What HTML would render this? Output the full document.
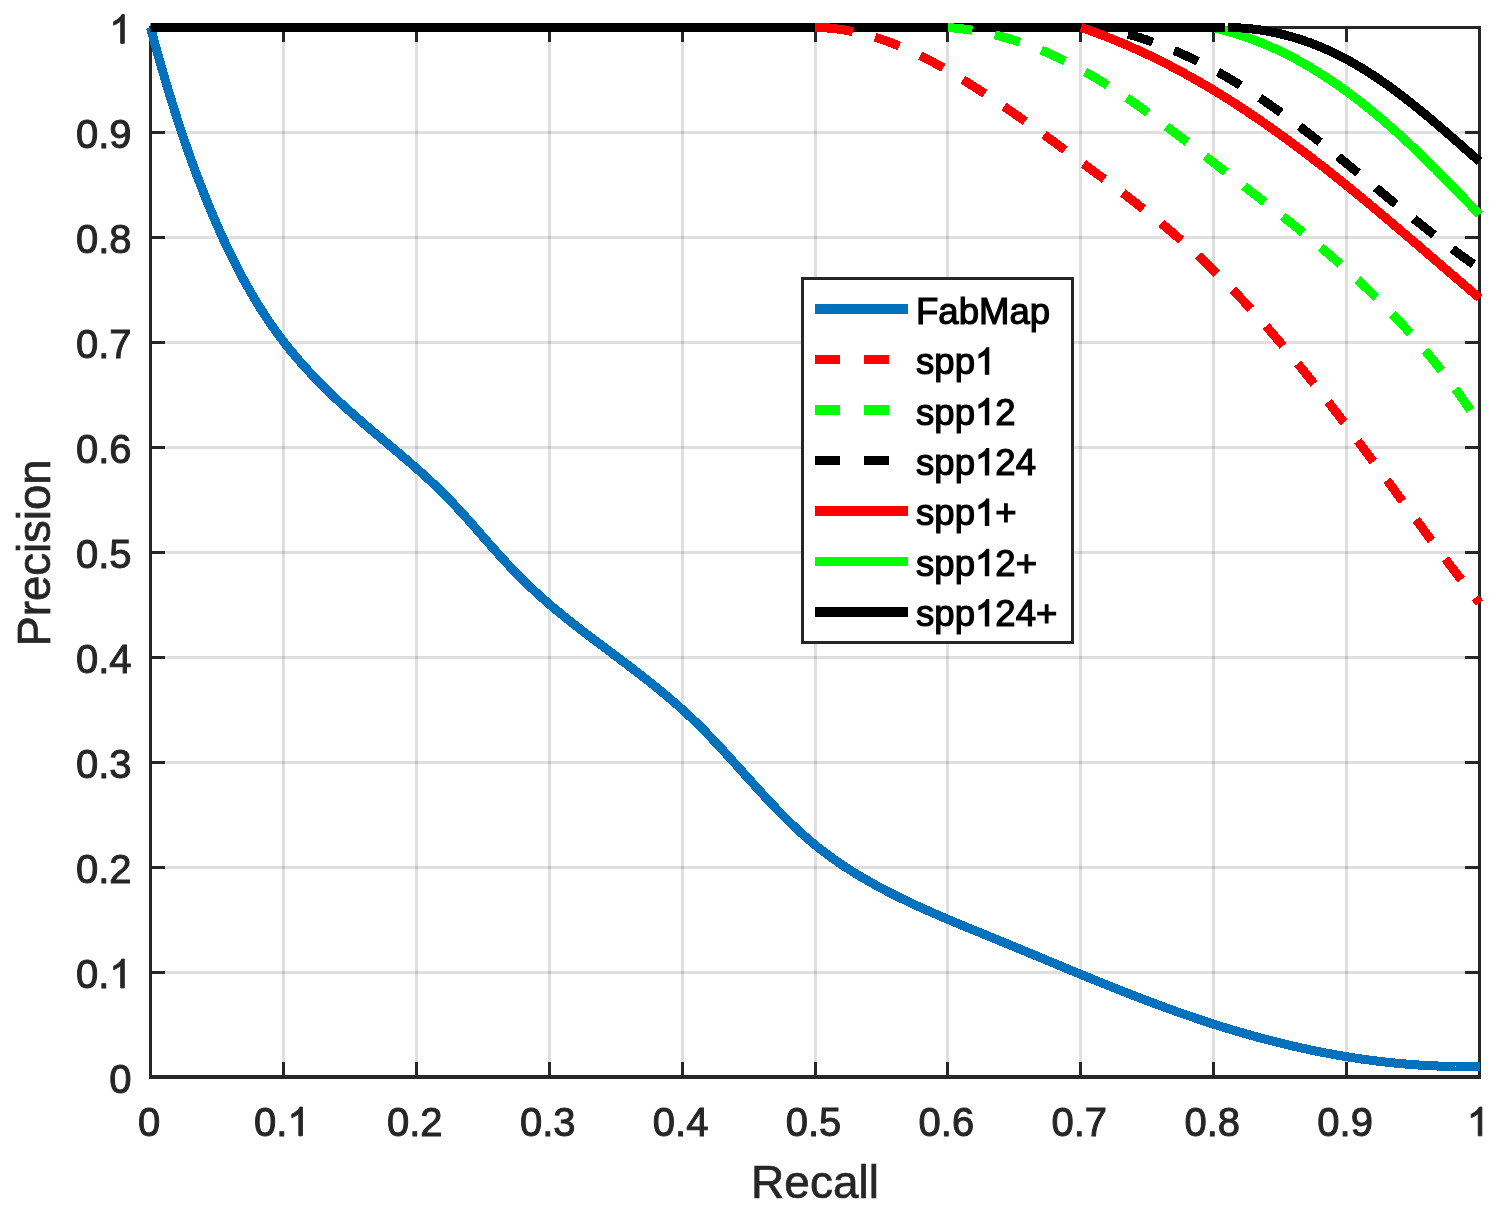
<!DOCTYPE html>
<html><head><meta charset="utf-8"><style>
html,body{margin:0;padding:0;background:#fff;}
body{width:1500px;height:1220px;overflow:hidden;}
svg{display:block;will-change:transform;}
text{font-family:"Liberation Sans",sans-serif;}
</style></head><body>
<svg width="1500" height="1220" viewBox="0 0 1500 1220">
<rect width="1500" height="1220" fill="#fff"/>
<g stroke="#262626" stroke-opacity="0.15" stroke-width="3" fill="none"><path d="M283.50,27.50 V1077.00"/><path d="M416.50,27.50 V1077.00"/><path d="M549.50,27.50 V1077.00"/><path d="M682.50,27.50 V1077.00"/><path d="M815.50,27.50 V1077.00"/><path d="M947.50,27.50 V1077.00"/><path d="M1080.50,27.50 V1077.00"/><path d="M1213.50,27.50 V1077.00"/><path d="M1346.50,27.50 V1077.00"/><path d="M150.50,972.50 H1479.50"/><path d="M150.50,867.50 H1479.50"/><path d="M150.50,762.50 H1479.50"/><path d="M150.50,657.50 H1479.50"/><path d="M150.50,552.50 H1479.50"/><path d="M150.50,447.50 H1479.50"/><path d="M150.50,342.50 H1479.50"/><path d="M150.50,237.50 H1479.50"/><path d="M150.50,132.50 H1479.50"/></g>
<path d="M283.50,1077.00 V1062.00 M283.50,27.50 V42.00 M150.50,972.50 H165.00 M1479.50,972.50 H1465.00 M416.50,1077.00 V1062.00 M416.50,27.50 V42.00 M150.50,867.50 H165.00 M1479.50,867.50 H1465.00 M549.50,1077.00 V1062.00 M549.50,27.50 V42.00 M150.50,762.50 H165.00 M1479.50,762.50 H1465.00 M682.50,1077.00 V1062.00 M682.50,27.50 V42.00 M150.50,657.50 H165.00 M1479.50,657.50 H1465.00 M815.50,1077.00 V1062.00 M815.50,27.50 V42.00 M150.50,552.50 H165.00 M1479.50,552.50 H1465.00 M947.50,1077.00 V1062.00 M947.50,27.50 V42.00 M150.50,447.50 H165.00 M1479.50,447.50 H1465.00 M1080.50,1077.00 V1062.00 M1080.50,27.50 V42.00 M150.50,342.50 H165.00 M1479.50,342.50 H1465.00 M1213.50,1077.00 V1062.00 M1213.50,27.50 V42.00 M150.50,237.50 H165.00 M1479.50,237.50 H1465.00 M1346.50,1077.00 V1062.00 M1346.50,27.50 V42.00 M150.50,132.50 H165.00 M1479.50,132.50 H1465.00" stroke="#262626" stroke-width="3" fill="none"/>
<path d="M149,27.5 H1481 M150.5,26 V1079 M1479.5,26 V1079" stroke="#262626" stroke-width="3" fill="none"/>
<path d="M149,1077 H1481" stroke="#262626" stroke-width="4" fill="none"/>
<path d="M150.5,27.5 151.0,29.4 151.5,31.4 152.1,33.3 152.6,35.2 153.1,37.2 153.6,39.1 154.2,41.0 154.7,43.0 155.2,44.9 155.8,46.8 156.3,48.8 156.8,50.7 157.4,52.6 157.9,54.6 158.5,56.5 159.0,58.4 159.5,60.4 160.1,62.3 160.6,64.2 161.2,66.1 161.7,68.1 162.3,70.0 162.9,71.9 163.4,73.8 164.0,75.8 164.5,77.7 165.1,79.6 165.7,81.5 166.2,83.5 166.8,85.4 167.4,87.3 168.0,89.2 168.5,91.1 169.1,93.0 169.7,95.0 170.3,96.9 170.9,98.8 171.5,100.7 172.1,102.6 172.7,104.5 173.3,106.5 173.9,108.4 174.5,110.3 175.1,112.2 175.7,114.1 176.3,116.0 176.9,117.9 177.5,119.8 178.1,121.7 178.8,123.6 179.4,125.5 180.0,127.4 180.6,129.3 181.3,131.3 181.9,133.2 182.5,135.1 183.2,137.0 183.8,138.8 184.5,140.7 185.1,142.6 185.8,144.5 186.4,146.4 187.1,148.3 187.8,150.2 188.4,152.1 189.1,154.0 189.8,155.9 190.4,157.8 191.1,159.7 191.8,161.5 192.5,163.4 193.2,165.3 193.9,167.2 194.5,169.1 195.2,171.0 195.9,172.8 196.6,174.7 197.4,176.6 198.1,178.5 198.8,180.3 199.5,182.2 200.2,184.1 200.9,185.9 201.7,187.8 202.4,189.7 203.1,191.5 203.9,193.4 204.6,195.3 205.4,197.1 206.1,199.0 206.9,200.8 207.6,202.7 208.4,204.6 209.1,206.4 209.9,208.3 210.7,210.1 211.4,212.0 212.2,213.8 213.0,215.7 213.8,217.5 214.6,219.3 215.4,221.2 216.2,223.0 217.0,224.9 217.8,226.7 218.6,228.5 219.4,230.4 220.2,232.2 221.0,234.0 221.9,235.8 222.7,237.7 223.5,239.5 224.4,241.3 225.2,243.1 226.1,244.9 226.9,246.7 227.8,248.6 228.7,250.4 229.5,252.2 230.4,254.0 231.3,255.8 232.2,257.6 233.1,259.4 234.0,261.2 234.9,263.0 235.8,264.7 236.7,266.5 237.6,268.3 238.5,270.1 239.4,271.9 240.4,273.6 241.3,275.4 242.3,277.2 243.2,278.9 244.2,280.7 245.2,282.5 246.1,284.2 247.1,286.0 248.1,287.7 249.1,289.4 250.1,291.2 251.1,292.9 252.1,294.6 253.1,296.4 254.1,298.1 255.2,299.8 256.2,301.5 257.2,303.2 258.3,304.9 259.4,306.6 260.4,308.3 261.5,310.0 262.6,311.7 263.7,313.4 264.8,315.1 265.9,316.8 267.0,318.4 268.1,320.1 269.2,321.8 270.3,323.4 271.5,325.1 272.6,326.7 273.8,328.3 274.9,330.0 276.1,331.6 277.3,333.2 278.5,334.8 279.7,336.5 280.9,338.1 282.1,339.7 283.3,341.2 284.5,342.8 285.8,344.4 287.0,346.0 288.3,347.5 289.5,349.1 290.8,350.7 292.1,352.2 293.3,353.7 294.6,355.3 295.9,356.8 297.2,358.3 298.5,359.9 299.8,361.4 301.2,362.9 302.5,364.4 303.8,365.9 305.2,367.4 306.5,368.8 307.9,370.3 309.2,371.8 310.6,373.3 312.0,374.7 313.4,376.2 314.7,377.6 316.1,379.1 317.5,380.5 318.9,381.9 320.3,383.4 321.7,384.8 323.2,386.2 324.6,387.6 326.0,389.0 327.4,390.4 328.9,391.8 330.3,393.2 331.8,394.6 333.2,396.0 334.7,397.4 336.1,398.8 337.6,400.1 339.0,401.5 340.5,402.9 342.0,404.2 343.5,405.6 344.9,406.9 346.4,408.3 347.9,409.6 349.4,411.0 350.9,412.3 352.4,413.6 353.9,415.0 355.4,416.3 356.9,417.6 358.4,418.9 359.9,420.2 361.4,421.6 363.0,422.9 364.5,424.2 366.0,425.5 367.5,426.8 369.0,428.1 370.6,429.4 372.1,430.7 373.6,432.0 375.2,433.3 376.7,434.6 378.2,435.8 379.8,437.1 381.3,438.4 382.8,439.7 384.4,441.0 385.9,442.3 387.4,443.6 389.0,444.9 390.5,446.2 392.0,447.5 393.6,448.7 395.1,450.0 396.6,451.3 398.2,452.6 399.7,453.9 401.2,455.2 402.7,456.5 404.3,457.8 405.8,459.1 407.3,460.4 408.8,461.7 410.4,463.0 411.9,464.4 413.4,465.7 414.9,467.0 416.4,468.3 417.9,469.6 419.4,471.0 420.9,472.3 422.4,473.6 423.9,475.0 425.4,476.3 426.8,477.7 428.3,479.0 429.8,480.4 431.3,481.8 432.7,483.1 434.2,484.5 435.6,485.9 437.1,487.3 438.5,488.7 439.9,490.1 441.4,491.5 442.8,492.9 444.2,494.3 445.6,495.7 447.0,497.2 448.4,498.6 449.8,500.0 451.2,501.5 452.6,502.9 454.0,504.4 455.4,505.8 456.7,507.3 458.1,508.8 459.4,510.2 460.8,511.7 462.2,513.2 463.5,514.7 464.9,516.2 466.2,517.7 467.5,519.1 468.9,520.6 470.2,522.1 471.5,523.6 472.9,525.1 474.2,526.6 475.5,528.1 476.9,529.6 478.2,531.1 479.5,532.6 480.8,534.1 482.1,535.7 483.5,537.2 484.8,538.7 486.1,540.2 487.4,541.7 488.8,543.2 490.1,544.7 491.4,546.2 492.8,547.7 494.1,549.2 495.4,550.7 496.8,552.2 498.1,553.7 499.4,555.2 500.8,556.6 502.1,558.1 503.5,559.6 504.8,561.1 506.2,562.6 507.5,564.0 508.9,565.5 510.3,567.0 511.7,568.4 513.0,569.9 514.4,571.3 515.8,572.8 517.2,574.2 518.6,575.6 520.0,577.1 521.4,578.5 522.8,579.9 524.3,581.3 525.7,582.7 527.1,584.1 528.6,585.5 530.0,586.9 531.5,588.2 533.0,589.6 534.4,591.0 535.9,592.3 537.4,593.7 538.9,595.0 540.4,596.4 541.9,597.7 543.4,599.0 544.9,600.3 546.4,601.7 547.9,603.0 549.4,604.3 551.0,605.6 552.5,606.9 554.0,608.2 555.6,609.4 557.1,610.7 558.7,612.0 560.2,613.3 561.8,614.5 563.3,615.8 564.9,617.1 566.4,618.3 568.0,619.6 569.6,620.8 571.1,622.1 572.7,623.3 574.3,624.5 575.9,625.8 577.4,627.0 579.0,628.2 580.6,629.5 582.2,630.7 583.8,631.9 585.4,633.1 587.0,634.4 588.6,635.6 590.2,636.8 591.8,638.0 593.4,639.2 595.0,640.4 596.6,641.6 598.2,642.8 599.8,644.0 601.4,645.2 603.0,646.4 604.6,647.6 606.2,648.8 607.8,650.1 609.4,651.3 611.0,652.5 612.6,653.7 614.2,654.9 615.8,656.1 617.4,657.3 619.0,658.5 620.6,659.7 622.2,660.9 623.8,662.1 625.4,663.3 627.0,664.5 628.6,665.7 630.2,666.9 631.8,668.1 633.4,669.4 635.0,670.6 636.6,671.8 638.1,673.0 639.7,674.2 641.3,675.5 642.9,676.7 644.5,677.9 646.1,679.2 647.6,680.4 649.2,681.7 650.8,682.9 652.3,684.1 653.9,685.4 655.5,686.7 657.0,687.9 658.6,689.2 660.1,690.4 661.7,691.7 663.2,693.0 664.8,694.3 666.3,695.6 667.8,696.9 669.4,698.1 670.9,699.4 672.4,700.8 673.9,702.1 675.4,703.4 677.0,704.7 678.5,706.0 680.0,707.4 681.4,708.7 682.9,710.0 684.4,711.4 685.9,712.7 687.4,714.1 688.8,715.5 690.3,716.9 691.7,718.2 693.2,719.6 694.6,721.0 696.1,722.4 697.5,723.8 698.9,725.2 700.3,726.6 701.8,728.1 703.2,729.5 704.6,730.9 706.0,732.3 707.4,733.8 708.8,735.2 710.2,736.7 711.5,738.1 712.9,739.6 714.3,741.0 715.7,742.5 717.0,743.9 718.4,745.4 719.8,746.9 721.1,748.3 722.5,749.8 723.9,751.3 725.2,752.8 726.6,754.3 727.9,755.7 729.3,757.2 730.6,758.7 732.0,760.2 733.3,761.7 734.6,763.2 736.0,764.6 737.3,766.1 738.7,767.6 740.0,769.1 741.3,770.6 742.7,772.1 744.0,773.6 745.4,775.1 746.7,776.6 748.0,778.1 749.4,779.5 750.7,781.0 752.1,782.5 753.4,784.0 754.8,785.5 756.1,787.0 757.5,788.5 758.8,789.9 760.2,791.4 761.5,792.9 762.9,794.4 764.2,795.8 765.6,797.3 767.0,798.8 768.3,800.3 769.7,801.7 771.1,803.2 772.5,804.6 773.8,806.1 775.2,807.5 776.6,809.0 778.0,810.4 779.4,811.8 780.8,813.3 782.2,814.7 783.6,816.1 785.0,817.6 786.5,819.0 787.9,820.4 789.3,821.8 790.8,823.2 792.2,824.6 793.6,825.9 795.1,827.3 796.6,828.7 798.0,830.1 799.5,831.4 801.0,832.8 802.5,834.1 804.0,835.5 805.5,836.8 807.0,838.1 808.5,839.4 810.0,840.7 811.5,842.0 813.1,843.3 814.6,844.6 816.2,845.8 817.7,847.1 819.3,848.3 820.9,849.6 822.5,850.8 824.1,852.0 825.7,853.2 827.3,854.4 828.9,855.6 830.5,856.8 832.1,858.0 833.8,859.2 835.4,860.3 837.0,861.5 838.7,862.6 840.3,863.7 842.0,864.8 843.7,865.9 845.3,867.0 847.0,868.1 848.7,869.2 850.4,870.3 852.1,871.4 853.8,872.4 855.5,873.5 857.2,874.5 858.9,875.6 860.7,876.6 862.4,877.6 864.1,878.6 865.8,879.6 867.6,880.6 869.3,881.6 871.1,882.6 872.8,883.6 874.6,884.6 876.3,885.5 878.1,886.5 879.9,887.4 881.6,888.4 883.4,889.3 885.2,890.2 886.9,891.2 888.7,892.1 890.5,893.0 892.3,893.9 894.1,894.8 895.9,895.7 897.7,896.6 899.5,897.5 901.3,898.4 903.1,899.2 904.9,900.1 906.7,901.0 908.5,901.8 910.3,902.7 912.1,903.5 914.0,904.4 915.8,905.2 917.6,906.1 919.4,906.9 921.2,907.7 923.1,908.5 924.9,909.4 926.7,910.2 928.6,911.0 930.4,911.8 932.2,912.6 934.1,913.4 935.9,914.2 937.7,915.0 939.6,915.8 941.4,916.6 943.3,917.4 945.1,918.2 946.9,919.0 948.8,919.7 950.6,920.5 952.5,921.3 954.3,922.1 956.2,922.9 958.0,923.6 959.9,924.4 961.7,925.2 963.6,925.9 965.4,926.7 967.3,927.5 969.1,928.2 971.0,929.0 972.9,929.8 974.7,930.5 976.6,931.3 978.4,932.0 980.3,932.8 982.1,933.6 984.0,934.3 985.8,935.1 987.7,935.8 989.5,936.6 991.4,937.4 993.3,938.1 995.1,938.9 997.0,939.6 998.8,940.4 1000.7,941.2 1002.5,941.9 1004.4,942.7 1006.2,943.4 1008.1,944.2 1009.9,945.0 1011.8,945.7 1013.6,946.5 1015.5,947.3 1017.3,948.0 1019.2,948.8 1021.0,949.6 1022.9,950.3 1024.7,951.1 1026.6,951.9 1028.4,952.7 1030.3,953.4 1032.2,954.2 1034.0,955.0 1035.9,955.7 1037.7,956.5 1039.6,957.3 1041.4,958.0 1043.3,958.8 1045.1,959.6 1047.0,960.4 1048.8,961.1 1050.7,961.9 1052.5,962.7 1054.4,963.4 1056.2,964.2 1058.1,965.0 1059.9,965.7 1061.8,966.5 1063.6,967.3 1065.5,968.1 1067.3,968.8 1069.2,969.6 1071.0,970.4 1072.9,971.1 1074.7,971.9 1076.6,972.6 1078.4,973.4 1080.3,974.2 1082.1,974.9 1084.0,975.7 1085.8,976.5 1087.7,977.2 1089.6,978.0 1091.4,978.7 1093.3,979.5 1095.1,980.2 1097.0,981.0 1098.8,981.7 1100.7,982.5 1102.6,983.3 1104.4,984.0 1106.3,984.8 1108.1,985.5 1110.0,986.2 1111.9,987.0 1113.7,987.7 1115.6,988.5 1117.4,989.2 1119.3,989.9 1121.2,990.7 1123.0,991.4 1124.9,992.2 1126.8,992.9 1128.6,993.6 1130.5,994.3 1132.4,995.1 1134.2,995.8 1136.1,996.5 1138.0,997.2 1139.8,998.0 1141.7,998.7 1143.6,999.4 1145.5,1000.1 1147.3,1000.8 1149.2,1001.5 1151.1,1002.2 1153.0,1002.9 1154.8,1003.6 1156.7,1004.3 1158.6,1005.0 1160.5,1005.7 1162.4,1006.4 1164.2,1007.1 1166.1,1007.8 1168.0,1008.5 1169.9,1009.2 1171.8,1009.8 1173.7,1010.5 1175.6,1011.2 1177.4,1011.9 1179.3,1012.5 1181.2,1013.2 1183.1,1013.9 1185.0,1014.5 1186.9,1015.2 1188.8,1015.8 1190.7,1016.5 1192.6,1017.1 1194.5,1017.8 1196.4,1018.4 1198.3,1019.1 1200.2,1019.7 1202.1,1020.3 1204.0,1021.0 1205.9,1021.6 1207.8,1022.2 1209.7,1022.8 1211.6,1023.5 1213.5,1024.1 1215.4,1024.7 1217.3,1025.3 1219.2,1025.9 1221.2,1026.5 1223.1,1027.1 1225.0,1027.7 1226.9,1028.3 1228.8,1028.8 1230.7,1029.4 1232.7,1030.0 1234.6,1030.6 1236.5,1031.1 1238.4,1031.7 1240.3,1032.3 1242.3,1032.8 1244.2,1033.4 1246.1,1033.9 1248.1,1034.5 1250.0,1035.0 1251.9,1035.6 1253.8,1036.1 1255.8,1036.6 1257.7,1037.2 1259.6,1037.7 1261.6,1038.2 1263.5,1038.7 1265.5,1039.2 1267.4,1039.7 1269.3,1040.2 1271.3,1040.7 1273.2,1041.2 1275.2,1041.7 1277.1,1042.2 1279.1,1042.7 1281.0,1043.2 1282.9,1043.7 1284.9,1044.1 1286.8,1044.6 1288.8,1045.1 1290.7,1045.5 1292.7,1046.0 1294.7,1046.4 1296.6,1046.9 1298.6,1047.3 1300.5,1047.7 1302.5,1048.2 1304.4,1048.6 1306.4,1049.0 1308.4,1049.4 1310.3,1049.9 1312.3,1050.3 1314.2,1050.7 1316.2,1051.1 1318.2,1051.5 1320.1,1051.9 1322.1,1052.2 1324.1,1052.6 1326.0,1053.0 1328.0,1053.4 1330.0,1053.7 1331.9,1054.1 1333.9,1054.5 1335.9,1054.8 1337.9,1055.2 1339.8,1055.5 1341.8,1055.9 1343.8,1056.2 1345.8,1056.5 1347.7,1056.8 1349.7,1057.2 1351.7,1057.5 1353.7,1057.8 1355.7,1058.1 1357.6,1058.4 1359.6,1058.7 1361.6,1059.0 1363.6,1059.3 1365.6,1059.5 1367.6,1059.8 1369.6,1060.1 1371.5,1060.4 1373.5,1060.6 1375.5,1060.9 1377.5,1061.1 1379.5,1061.4 1381.5,1061.6 1383.5,1061.8 1385.5,1062.1 1387.5,1062.3 1389.5,1062.5 1391.4,1062.7 1393.4,1062.9 1395.4,1063.1 1397.4,1063.3 1399.4,1063.5 1401.4,1063.7 1403.4,1063.9 1405.4,1064.0 1407.4,1064.2 1409.4,1064.4 1411.4,1064.5 1413.4,1064.7 1415.4,1064.8 1417.4,1064.9 1419.4,1065.1 1421.4,1065.2 1423.4,1065.3 1425.4,1065.4 1427.4,1065.6 1429.4,1065.7 1431.4,1065.8 1433.4,1065.8 1435.4,1065.9 1437.4,1066.0 1439.4,1066.1 1441.4,1066.2 1443.4,1066.2 1445.4,1066.3 1447.4,1066.3 1449.4,1066.4 1451.4,1066.4 1453.4,1066.4 1455.5,1066.5 1457.5,1066.5 1459.5,1066.5 1461.5,1066.5 1463.5,1066.5 1465.5,1066.5 1467.5,1066.5 1469.5,1066.5 1471.5,1066.5 1473.5,1066.4 1475.5,1066.4 1477.5,1066.3 1479.5,1066.3" stroke="#0072bd" stroke-width="9" fill="none" stroke-linejoin="round" stroke-linecap="butt" shape-rendering="crispEdges"/>
<path d="M150.5,27.5 H1225" stroke="#000" stroke-width="9" fill="none"/>
<path d="M815,27.5 H830" stroke="#ff0000" stroke-width="9"/>
<path d="M815.0,27.5 817.0,27.5 819.0,27.6 821.0,27.7 823.0,27.8 825.0,27.9 827.0,28.0 829.0,28.2 831.0,28.4 833.0,28.6 835.0,28.8 837.0,29.0 839.0,29.3 841.0,29.5 843.0,29.8 844.9,30.1 846.9,30.5 848.9,30.8 850.9,31.2 852.8,31.6 854.8,32.0 856.8,32.4 858.7,32.8 860.7,33.3 862.6,33.8 864.6,34.3 866.5,34.8 868.4,35.3 870.4,35.8 872.3,36.4 874.2,37.0 876.1,37.6 878.0,38.2 880.0,38.8 881.9,39.4 883.8,40.1 885.6,40.7 887.5,41.4 889.4,42.1 891.3,42.8 893.2,43.5 895.0,44.3 896.9,45.0 898.8,45.8 900.6,46.5 902.5,47.3 904.3,48.1 906.1,48.9 908.0,49.7 909.8,50.6 911.6,51.4 913.4,52.3 915.2,53.1 917.0,54.0 918.8,54.9 920.6,55.8 922.4,56.7 924.2,57.6 926.0,58.5 927.8,59.4 929.6,60.4 931.3,61.3 933.1,62.2 934.9,63.2 936.6,64.2 938.4,65.1 940.1,66.1 941.9,67.1 943.6,68.1 945.3,69.1 947.1,70.1 948.8,71.1 950.5,72.2 952.3,73.2 954.0,74.2 955.7,75.2 957.4,76.3 959.1,77.3 960.8,78.4 962.5,79.4 964.2,80.5 965.9,81.6 967.6,82.6 969.3,83.7 971.0,84.8 972.7,85.9 974.4,86.9 976.1,88.0 977.8,89.1 979.5,90.2 981.1,91.3 982.8,92.4 984.5,93.5 986.2,94.6 987.9,95.7 989.5,96.8 991.2,97.9 992.9,99.0 994.5,100.1 996.2,101.3 997.9,102.4 999.5,103.5 1001.2,104.6 1002.8,105.8 1004.5,106.9 1006.1,108.0 1007.8,109.2 1009.5,110.3 1011.1,111.4 1012.8,112.6 1014.4,113.7 1016.0,114.9 1017.7,116.0 1019.3,117.2 1021.0,118.3 1022.6,119.5 1024.3,120.6 1025.9,121.8 1027.5,122.9 1029.2,124.1 1030.8,125.3 1032.4,126.4 1034.1,127.6 1035.7,128.8 1037.3,129.9 1039.0,131.1 1040.6,132.3 1042.2,133.4 1043.8,134.6 1045.5,135.8 1047.1,137.0 1048.7,138.2 1050.3,139.3 1052.0,140.5 1053.6,141.7 1055.2,142.9 1056.8,144.1 1058.4,145.2 1060.1,146.4 1061.7,147.6 1063.3,148.8 1064.9,150.0 1066.5,151.2 1068.1,152.4 1069.7,153.6 1071.4,154.7 1073.0,155.9 1074.6,157.1 1076.2,158.3 1077.8,159.5 1079.4,160.7 1081.0,161.9 1082.6,163.1 1084.3,164.3 1085.9,165.5 1087.5,166.7 1089.1,167.9 1090.7,169.1 1092.3,170.3 1093.9,171.5 1095.5,172.7 1097.1,173.9 1098.7,175.1 1100.4,176.3 1102.0,177.5 1103.6,178.7 1105.2,179.9 1106.8,181.1 1108.4,182.3 1110.0,183.5 1111.6,184.7 1113.2,185.9 1114.8,187.1 1116.4,188.3 1118.0,189.5 1119.6,190.7 1121.2,191.9 1122.8,193.1 1124.4,194.3 1126.0,195.5 1127.6,196.7 1129.2,198.0 1130.8,199.2 1132.4,200.4 1134.0,201.6 1135.6,202.8 1137.2,204.1 1138.7,205.3 1140.3,206.5 1141.9,207.8 1143.5,209.0 1145.1,210.3 1146.6,211.5 1148.2,212.7 1149.8,214.0 1151.3,215.2 1152.9,216.5 1154.5,217.8 1156.0,219.0 1157.6,220.3 1159.1,221.5 1160.7,222.8 1162.2,224.1 1163.8,225.4 1165.3,226.7 1166.9,227.9 1168.4,229.2 1169.9,230.5 1171.5,231.8 1173.0,233.1 1174.5,234.4 1176.0,235.7 1177.5,237.1 1179.1,238.4 1180.6,239.7 1182.1,241.0 1183.6,242.4 1185.1,243.7 1186.6,245.0 1188.0,246.4 1189.5,247.7 1191.0,249.1 1192.5,250.4 1194.0,251.8 1195.5,253.1 1196.9,254.5 1198.4,255.9 1199.9,257.2 1201.3,258.6 1202.8,260.0 1204.2,261.4 1205.7,262.8 1207.1,264.1 1208.6,265.5 1210.0,266.9 1211.5,268.3 1212.9,269.7 1214.3,271.1 1215.7,272.5 1217.2,274.0 1218.6,275.4 1220.0,276.8 1221.4,278.2 1222.8,279.6 1224.3,281.1 1225.7,282.5 1227.1,283.9 1228.5,285.3 1229.9,286.8 1231.3,288.2 1232.6,289.7 1234.0,291.1 1235.4,292.6 1236.8,294.0 1238.2,295.5 1239.6,296.9 1240.9,298.4 1242.3,299.9 1243.7,301.3 1245.0,302.8 1246.4,304.3 1247.8,305.7 1249.1,307.2 1250.5,308.7 1251.8,310.2 1253.2,311.7 1254.5,313.1 1255.9,314.6 1257.2,316.1 1258.6,317.6 1259.9,319.1 1261.2,320.6 1262.6,322.1 1263.9,323.6 1265.2,325.1 1266.5,326.6 1267.9,328.1 1269.2,329.6 1270.5,331.2 1271.8,332.7 1273.1,334.2 1274.4,335.7 1275.7,337.2 1277.0,338.8 1278.3,340.3 1279.6,341.8 1280.9,343.3 1282.2,344.9 1283.5,346.4 1284.8,347.9 1286.1,349.5 1287.4,351.0 1288.7,352.6 1290.0,354.1 1291.2,355.6 1292.5,357.2 1293.8,358.7 1295.1,360.3 1296.3,361.8 1297.6,363.4 1298.9,364.9 1300.1,366.5 1301.4,368.0 1302.7,369.6 1303.9,371.2 1305.2,372.7 1306.5,374.3 1307.7,375.9 1309.0,377.4 1310.2,379.0 1311.5,380.6 1312.7,382.1 1314.0,383.7 1315.2,385.3 1316.4,386.8 1317.7,388.4 1318.9,390.0 1320.2,391.6 1321.4,393.1 1322.6,394.7 1323.9,396.3 1325.1,397.9 1326.3,399.5 1327.6,401.1 1328.8,402.6 1330.0,404.2 1331.3,405.8 1332.5,407.4 1333.7,409.0 1334.9,410.6 1336.1,412.2 1337.4,413.8 1338.6,415.4 1339.8,417.0 1341.0,418.6 1342.2,420.1 1343.4,421.7 1344.7,423.3 1345.9,424.9 1347.1,426.5 1348.3,428.1 1349.5,429.7 1350.7,431.3 1351.9,432.9 1353.1,434.5 1354.3,436.1 1355.5,437.8 1356.7,439.4 1357.9,441.0 1359.1,442.6 1360.3,444.2 1361.5,445.8 1362.7,447.4 1363.9,449.0 1365.1,450.6 1366.3,452.2 1367.5,453.8 1368.7,455.4 1369.9,457.0 1371.1,458.7 1372.3,460.3 1373.5,461.9 1374.7,463.5 1375.9,465.1 1377.1,466.7 1378.3,468.3 1379.5,469.9 1380.7,471.6 1381.9,473.2 1383.0,474.8 1384.2,476.4 1385.4,478.0 1386.6,479.6 1387.8,481.2 1389.0,482.9 1390.2,484.5 1391.4,486.1 1392.6,487.7 1393.8,489.3 1394.9,490.9 1396.1,492.5 1397.3,494.2 1398.5,495.8 1399.7,497.4 1400.9,499.0 1402.1,500.6 1403.3,502.2 1404.5,503.8 1405.7,505.5 1406.8,507.1 1408.0,508.7 1409.2,510.3 1410.4,511.9 1411.6,513.5 1412.8,515.1 1414.0,516.8 1415.2,518.4 1416.4,520.0 1417.6,521.6 1418.8,523.2 1420.0,524.8 1421.1,526.4 1422.3,528.0 1423.5,529.7 1424.7,531.3 1425.9,532.9 1427.1,534.5 1428.3,536.1 1429.5,537.7 1430.7,539.3 1431.9,540.9 1433.1,542.5 1434.3,544.1 1435.5,545.7 1436.7,547.3 1437.9,548.9 1439.1,550.6 1440.3,552.2 1441.5,553.8 1442.7,555.4 1444.0,557.0 1445.2,558.6 1446.4,560.2 1447.6,561.8 1448.8,563.4 1450.0,565.0 1451.2,566.6 1452.4,568.1 1453.7,569.7 1454.9,571.3 1456.1,572.9 1457.3,574.5 1458.5,576.1 1459.8,577.7 1461.0,579.3 1462.2,580.9 1463.4,582.5 1464.7,584.1 1465.9,585.6 1467.1,587.2 1468.3,588.8 1469.6,590.4 1470.8,592.0 1472.0,593.5 1473.3,595.1 1474.5,596.7 1475.8,598.3 1477.0,599.9 1478.3,601.4 1479.5,603.0" stroke="#ff0000" stroke-width="9" fill="none" stroke-linejoin="round" stroke-linecap="butt" shape-rendering="crispEdges" stroke-dasharray="26 23" stroke-dashoffset="37.00"/>
<path d="M948.0,27.5 950.0,27.6 952.0,27.8 954.0,28.0 956.0,28.2 958.0,28.4 960.0,28.6 962.0,28.8 964.0,29.1 966.0,29.3 968.0,29.6 970.0,29.9 972.0,30.2 974.0,30.6 975.9,30.9 977.9,31.2 979.9,31.6 981.9,32.0 983.8,32.4 985.8,32.8 987.8,33.2 989.7,33.6 991.7,34.1 993.7,34.6 995.6,35.0 997.6,35.5 999.5,36.0 1001.5,36.5 1003.4,37.1 1005.3,37.6 1007.3,38.2 1009.2,38.7 1011.1,39.3 1013.0,39.9 1015.0,40.5 1016.9,41.1 1018.8,41.8 1020.7,42.4 1022.6,43.1 1024.5,43.7 1026.4,44.4 1028.3,45.1 1030.2,45.8 1032.0,46.5 1033.9,47.3 1035.8,48.0 1037.7,48.7 1039.5,49.5 1041.4,50.3 1043.2,51.0 1045.1,51.8 1046.9,52.6 1048.8,53.4 1050.6,54.3 1052.4,55.1 1054.3,55.9 1056.1,56.8 1057.9,57.6 1059.7,58.5 1061.5,59.4 1063.3,60.3 1065.1,61.2 1066.9,62.1 1068.7,63.0 1070.5,63.9 1072.3,64.8 1074.1,65.8 1075.9,66.7 1077.6,67.7 1079.4,68.6 1081.2,69.6 1082.9,70.6 1084.7,71.6 1086.4,72.5 1088.2,73.5 1089.9,74.6 1091.7,75.6 1093.4,76.6 1095.1,77.6 1096.8,78.6 1098.6,79.7 1100.3,80.7 1102.0,81.8 1103.7,82.8 1105.4,83.9 1107.1,85.0 1108.8,86.0 1110.5,87.1 1112.2,88.2 1113.9,89.3 1115.6,90.4 1117.3,91.5 1119.0,92.6 1120.6,93.7 1122.3,94.8 1124.0,95.9 1125.6,97.1 1127.3,98.2 1129.0,99.3 1130.6,100.5 1132.3,101.6 1133.9,102.8 1135.6,103.9 1137.2,105.1 1138.9,106.2 1140.5,107.4 1142.2,108.6 1143.8,109.7 1145.4,110.9 1147.1,112.1 1148.7,113.2 1150.3,114.4 1151.9,115.6 1153.6,116.8 1155.2,118.0 1156.8,119.2 1158.4,120.4 1160.0,121.6 1161.7,122.8 1163.3,124.0 1164.9,125.2 1166.5,126.4 1168.1,127.6 1169.7,128.8 1171.3,130.0 1172.9,131.2 1174.5,132.5 1176.1,133.7 1177.7,134.9 1179.3,136.1 1180.9,137.3 1182.5,138.6 1184.1,139.8 1185.7,141.0 1187.3,142.2 1188.9,143.5 1190.5,144.7 1192.1,145.9 1193.7,147.2 1195.2,148.4 1196.8,149.6 1198.4,150.9 1200.0,152.1 1201.6,153.3 1203.2,154.6 1204.8,155.8 1206.4,157.0 1208.0,158.3 1209.5,159.5 1211.1,160.7 1212.7,162.0 1214.3,163.2 1215.9,164.4 1217.5,165.7 1219.1,166.9 1220.7,168.1 1222.3,169.3 1223.9,170.6 1225.4,171.8 1227.0,173.0 1228.6,174.3 1230.2,175.5 1231.8,176.7 1233.4,177.9 1235.0,179.2 1236.6,180.4 1238.2,181.6 1239.8,182.9 1241.4,184.1 1243.0,185.3 1244.6,186.6 1246.1,187.8 1247.7,189.0 1249.3,190.2 1250.9,191.5 1252.5,192.7 1254.1,193.9 1255.7,195.2 1257.3,196.4 1258.9,197.6 1260.5,198.9 1262.0,200.1 1263.6,201.3 1265.2,202.6 1266.8,203.8 1268.4,205.0 1270.0,206.3 1271.6,207.5 1273.1,208.8 1274.7,210.0 1276.3,211.3 1277.9,212.5 1279.5,213.7 1281.0,215.0 1282.6,216.2 1284.2,217.5 1285.8,218.7 1287.3,220.0 1288.9,221.2 1290.5,222.5 1292.1,223.8 1293.6,225.0 1295.2,226.3 1296.8,227.5 1298.3,228.8 1299.9,230.1 1301.5,231.3 1303.0,232.6 1304.6,233.9 1306.1,235.2 1307.7,236.4 1309.2,237.7 1310.8,239.0 1312.3,240.3 1313.9,241.6 1315.4,242.8 1317.0,244.1 1318.5,245.4 1320.1,246.7 1321.6,248.0 1323.1,249.3 1324.7,250.6 1326.2,251.9 1327.7,253.2 1329.3,254.5 1330.8,255.8 1332.3,257.1 1333.8,258.5 1335.3,259.8 1336.9,261.1 1338.4,262.4 1339.9,263.8 1341.4,265.1 1342.9,266.4 1344.4,267.8 1345.9,269.1 1347.4,270.4 1348.9,271.8 1350.4,273.1 1351.9,274.5 1353.4,275.9 1354.8,277.2 1356.3,278.6 1357.8,279.9 1359.3,281.3 1360.7,282.7 1362.2,284.1 1363.7,285.4 1365.1,286.8 1366.6,288.2 1368.0,289.6 1369.5,291.0 1370.9,292.4 1372.4,293.8 1373.8,295.2 1375.2,296.6 1376.7,298.0 1378.1,299.4 1379.5,300.9 1381.0,302.3 1382.4,303.7 1383.8,305.1 1385.2,306.6 1386.6,308.0 1388.0,309.5 1389.4,310.9 1390.8,312.4 1392.2,313.8 1393.6,315.3 1395.0,316.7 1396.3,318.2 1397.7,319.6 1399.1,321.1 1400.5,322.6 1401.8,324.1 1403.2,325.5 1404.6,327.0 1405.9,328.5 1407.3,330.0 1408.6,331.5 1409.9,333.0 1411.3,334.5 1412.6,336.0 1414.0,337.5 1415.3,339.0 1416.6,340.5 1417.9,342.1 1419.2,343.6 1420.5,345.1 1421.9,346.6 1423.2,348.2 1424.5,349.7 1425.7,351.2 1427.0,352.8 1428.3,354.3 1429.6,355.9 1430.9,357.4 1432.2,359.0 1433.4,360.6 1434.7,362.1 1436.0,363.7 1437.2,365.3 1438.5,366.8 1439.7,368.4 1441.0,370.0 1442.2,371.6 1443.4,373.2 1444.7,374.8 1445.9,376.3 1447.1,377.9 1448.3,379.5 1449.5,381.2 1450.7,382.8 1452.0,384.4 1453.2,386.0 1454.3,387.6 1455.5,389.2 1456.7,390.8 1457.9,392.5 1459.1,394.1 1460.3,395.7 1461.4,397.4 1462.6,399.0 1463.8,400.7 1464.9,402.3 1466.1,404.0 1467.2,405.6 1468.3,407.3 1469.5,408.9 1470.6,410.6 1471.7,412.3 1472.9,413.9 1474.0,415.6 1475.1,417.3 1476.2,418.9 1477.3,420.6 1478.4,422.3 1479.5,424.0" stroke="#00ff00" stroke-width="9" fill="none" stroke-linejoin="round" stroke-linecap="butt" shape-rendering="crispEdges" stroke-dasharray="26 23" stroke-dashoffset="1.50"/>
<path d="M1100.0,27.5 1102.0,27.9 1103.9,28.3 1105.9,28.7 1107.9,29.1 1109.8,29.6 1111.8,30.0 1113.7,30.5 1115.7,30.9 1117.6,31.4 1119.6,31.9 1121.5,32.4 1123.5,32.9 1125.4,33.5 1127.4,34.0 1129.3,34.5 1131.2,35.1 1133.2,35.7 1135.1,36.2 1137.0,36.8 1138.9,37.4 1140.8,38.0 1142.7,38.7 1144.6,39.3 1146.5,39.9 1148.4,40.6 1150.3,41.3 1152.2,41.9 1154.1,42.6 1156.0,43.3 1157.9,44.0 1159.8,44.7 1161.7,45.4 1163.5,46.2 1165.4,46.9 1167.3,47.6 1169.1,48.4 1171.0,49.2 1172.8,50.0 1174.7,50.7 1176.5,51.5 1178.4,52.3 1180.2,53.1 1182.0,54.0 1183.9,54.8 1185.7,55.6 1187.5,56.5 1189.3,57.3 1191.2,58.2 1193.0,59.1 1194.8,59.9 1196.6,60.8 1198.4,61.7 1200.2,62.6 1202.0,63.5 1203.7,64.5 1205.5,65.4 1207.3,66.3 1209.1,67.3 1210.9,68.2 1212.6,69.2 1214.4,70.1 1216.1,71.1 1217.9,72.1 1219.7,73.1 1221.4,74.0 1223.1,75.0 1224.9,76.0 1226.6,77.0 1228.4,78.1 1230.1,79.1 1231.8,80.1 1233.5,81.1 1235.3,82.2 1237.0,83.2 1238.7,84.3 1240.4,85.3 1242.1,86.4 1243.8,87.5 1245.5,88.5 1247.2,89.6 1248.9,90.7 1250.6,91.8 1252.3,92.9 1253.9,94.0 1255.6,95.1 1257.3,96.2 1259.0,97.3 1260.6,98.4 1262.3,99.6 1264.0,100.7 1265.6,101.8 1267.3,103.0 1268.9,104.1 1270.6,105.3 1272.2,106.4 1273.9,107.6 1275.5,108.7 1277.1,109.9 1278.8,111.1 1280.4,112.2 1282.0,113.4 1283.7,114.6 1285.3,115.8 1286.9,116.9 1288.5,118.1 1290.2,119.3 1291.8,120.5 1293.4,121.7 1295.0,122.9 1296.6,124.1 1298.2,125.3 1299.8,126.5 1301.4,127.8 1303.0,129.0 1304.6,130.2 1306.2,131.4 1307.8,132.6 1309.4,133.9 1311.0,135.1 1312.6,136.3 1314.1,137.6 1315.7,138.8 1317.3,140.0 1318.9,141.3 1320.5,142.5 1322.0,143.8 1323.6,145.0 1325.2,146.3 1326.8,147.5 1328.3,148.8 1329.9,150.0 1331.5,151.3 1333.0,152.6 1334.6,153.8 1336.2,155.1 1337.7,156.3 1339.3,157.6 1340.8,158.9 1342.4,160.1 1344.0,161.4 1345.5,162.7 1347.1,163.9 1348.6,165.2 1350.2,166.5 1351.7,167.8 1353.3,169.0 1354.8,170.3 1356.4,171.6 1358.0,172.9 1359.5,174.1 1361.1,175.4 1362.6,176.7 1364.2,178.0 1365.7,179.3 1367.3,180.5 1368.8,181.8 1370.3,183.1 1371.9,184.4 1373.4,185.7 1375.0,186.9 1376.5,188.2 1378.1,189.5 1379.6,190.8 1381.2,192.1 1382.7,193.3 1384.3,194.6 1385.8,195.9 1387.4,197.2 1388.9,198.5 1390.5,199.7 1392.0,201.0 1393.6,202.3 1395.1,203.6 1396.7,204.8 1398.2,206.1 1399.8,207.4 1401.4,208.7 1402.9,209.9 1404.5,211.2 1406.0,212.5 1407.6,213.7 1409.1,215.0 1410.7,216.3 1412.3,217.5 1413.8,218.8 1415.4,220.1 1417.0,221.3 1418.5,222.6 1420.1,223.8 1421.7,225.1 1423.2,226.3 1424.8,227.6 1426.4,228.8 1428.0,230.1 1429.5,231.3 1431.1,232.6 1432.7,233.8 1434.3,235.0 1435.9,236.3 1437.4,237.5 1439.0,238.7 1440.6,240.0 1442.2,241.2 1443.8,242.4 1445.4,243.6 1447.0,244.9 1448.6,246.1 1450.2,247.3 1451.8,248.5 1453.4,249.7 1455.0,250.9 1456.6,252.1 1458.3,253.3 1459.9,254.5 1461.5,255.7 1463.1,256.9 1464.7,258.0 1466.4,259.2 1468.0,260.4 1469.6,261.6 1471.3,262.7 1472.9,263.9 1474.6,265.0 1476.2,266.2 1477.8,267.4 1479.5,268.5" stroke="#000" stroke-width="9" fill="none" stroke-linejoin="round" stroke-linecap="butt" shape-rendering="crispEdges" stroke-dasharray="26 23" stroke-dashoffset="20.25"/>
<path d="M1081.0,27.5 1082.9,28.2 1084.8,28.8 1086.7,29.5 1088.6,30.1 1090.5,30.8 1092.4,31.5 1094.3,32.2 1096.2,32.9 1098.1,33.6 1099.9,34.3 1101.8,35.0 1103.7,35.7 1105.6,36.4 1107.4,37.2 1109.3,37.9 1111.2,38.7 1113.1,39.4 1114.9,40.2 1116.8,40.9 1118.6,41.7 1120.5,42.5 1122.4,43.2 1124.2,44.0 1126.1,44.8 1127.9,45.6 1129.7,46.4 1131.6,47.2 1133.4,48.1 1135.3,48.9 1137.1,49.7 1138.9,50.5 1140.8,51.4 1142.6,52.2 1144.4,53.1 1146.2,53.9 1148.0,54.8 1149.9,55.6 1151.7,56.5 1153.5,57.4 1155.3,58.3 1157.1,59.2 1158.9,60.1 1160.7,61.0 1162.5,61.9 1164.3,62.8 1166.1,63.7 1167.9,64.6 1169.7,65.5 1171.4,66.5 1173.2,67.4 1175.0,68.3 1176.8,69.3 1178.6,70.2 1180.3,71.2 1182.1,72.1 1183.9,73.1 1185.6,74.1 1187.4,75.0 1189.2,76.0 1190.9,77.0 1192.7,78.0 1194.4,79.0 1196.2,80.0 1197.9,81.0 1199.6,82.0 1201.4,83.0 1203.1,84.0 1204.9,85.0 1206.6,86.0 1208.3,87.0 1210.1,88.1 1211.8,89.1 1213.5,90.2 1215.2,91.2 1216.9,92.2 1218.7,93.3 1220.4,94.3 1222.1,95.4 1223.8,96.5 1225.5,97.5 1227.2,98.6 1228.9,99.7 1230.6,100.8 1232.3,101.8 1234.0,102.9 1235.7,104.0 1237.4,105.1 1239.1,106.2 1240.7,107.3 1242.4,108.4 1244.1,109.5 1245.8,110.6 1247.5,111.7 1249.1,112.9 1250.8,114.0 1252.5,115.1 1254.1,116.2 1255.8,117.4 1257.5,118.5 1259.1,119.6 1260.8,120.8 1262.4,121.9 1264.1,123.1 1265.7,124.2 1267.4,125.4 1269.0,126.5 1270.7,127.7 1272.3,128.8 1274.0,130.0 1275.6,131.2 1277.2,132.3 1278.9,133.5 1280.5,134.7 1282.1,135.9 1283.8,137.0 1285.4,138.2 1287.0,139.4 1288.6,140.6 1290.3,141.8 1291.9,143.0 1293.5,144.2 1295.1,145.4 1296.7,146.6 1298.3,147.8 1299.9,149.0 1301.5,150.2 1303.2,151.4 1304.8,152.6 1306.4,153.9 1308.0,155.1 1309.6,156.3 1311.2,157.5 1312.8,158.7 1314.3,160.0 1315.9,161.2 1317.5,162.4 1319.1,163.7 1320.7,164.9 1322.3,166.1 1323.9,167.4 1325.5,168.6 1327.0,169.9 1328.6,171.1 1330.2,172.4 1331.8,173.6 1333.4,174.9 1334.9,176.1 1336.5,177.4 1338.1,178.6 1339.6,179.9 1341.2,181.1 1342.8,182.4 1344.3,183.7 1345.9,184.9 1347.5,186.2 1349.0,187.5 1350.6,188.7 1352.2,190.0 1353.7,191.3 1355.3,192.5 1356.8,193.8 1358.4,195.1 1359.9,196.4 1361.5,197.6 1363.0,198.9 1364.6,200.2 1366.1,201.5 1367.7,202.8 1369.2,204.1 1370.8,205.3 1372.3,206.6 1373.9,207.9 1375.4,209.2 1377.0,210.5 1378.5,211.8 1380.1,213.1 1381.6,214.4 1383.1,215.7 1384.7,217.0 1386.2,218.3 1387.8,219.6 1389.3,220.9 1390.8,222.2 1392.4,223.5 1393.9,224.8 1395.4,226.1 1397.0,227.4 1398.5,228.7 1400.0,230.0 1401.6,231.3 1403.1,232.6 1404.6,233.9 1406.2,235.2 1407.7,236.5 1409.2,237.8 1410.8,239.1 1412.3,240.4 1413.8,241.7 1415.3,243.0 1416.9,244.3 1418.4,245.6 1419.9,246.9 1421.4,248.3 1423.0,249.6 1424.5,250.9 1426.0,252.2 1427.6,253.5 1429.1,254.8 1430.6,256.1 1432.1,257.4 1433.7,258.7 1435.2,260.1 1436.7,261.4 1438.2,262.7 1439.8,264.0 1441.3,265.3 1442.8,266.6 1444.3,267.9 1445.9,269.2 1447.4,270.5 1448.9,271.9 1450.4,273.2 1452.0,274.5 1453.5,275.8 1455.0,277.1 1456.5,278.4 1458.1,279.7 1459.6,281.0 1461.1,282.3 1462.7,283.6 1464.2,285.0 1465.7,286.3 1467.2,287.6 1468.8,288.9 1470.3,290.2 1471.8,291.5 1473.4,292.8 1474.9,294.1 1476.4,295.4 1478.0,296.7 1479.5,298.0" stroke="#ff0000" stroke-width="9" fill="none" stroke-linejoin="round" stroke-linecap="butt" shape-rendering="crispEdges"/>
<path d="M1214.0,27.8 1216.0,28.3 1217.9,28.7 1219.9,29.2 1221.9,29.7 1223.8,30.2 1225.8,30.8 1227.7,31.3 1229.6,31.9 1231.6,32.4 1233.5,33.0 1235.5,33.6 1237.4,34.2 1239.3,34.8 1241.2,35.5 1243.2,36.1 1245.1,36.7 1247.0,37.4 1248.9,38.1 1250.8,38.8 1252.7,39.5 1254.6,40.2 1256.5,40.9 1258.3,41.7 1260.2,42.4 1262.1,43.2 1264.0,43.9 1265.8,44.7 1267.7,45.5 1269.5,46.3 1271.4,47.1 1273.2,48.0 1275.1,48.8 1276.9,49.6 1278.7,50.5 1280.6,51.4 1282.4,52.2 1284.2,53.1 1286.0,54.0 1287.8,54.9 1289.6,55.9 1291.4,56.8 1293.2,57.7 1295.0,58.7 1296.8,59.6 1298.5,60.6 1300.3,61.6 1302.1,62.6 1303.8,63.6 1305.6,64.6 1307.3,65.6 1309.1,66.6 1310.8,67.6 1312.6,68.7 1314.3,69.7 1316.0,70.8 1317.7,71.8 1319.4,72.9 1321.2,74.0 1322.9,75.1 1324.6,76.2 1326.2,77.3 1327.9,78.4 1329.6,79.5 1331.3,80.6 1333.0,81.8 1334.6,82.9 1336.3,84.0 1338.0,85.2 1339.6,86.3 1341.3,87.5 1342.9,88.7 1344.6,89.9 1346.2,91.1 1347.8,92.3 1349.5,93.4 1351.1,94.7 1352.7,95.9 1354.3,97.1 1355.9,98.3 1357.5,99.5 1359.1,100.8 1360.7,102.0 1362.3,103.3 1363.9,104.5 1365.5,105.8 1367.1,107.0 1368.6,108.3 1370.2,109.6 1371.8,110.9 1373.3,112.1 1374.9,113.4 1376.5,114.7 1378.0,116.0 1379.5,117.3 1381.1,118.6 1382.6,119.9 1384.2,121.2 1385.7,122.6 1387.2,123.9 1388.7,125.2 1390.3,126.6 1391.8,127.9 1393.3,129.2 1394.8,130.6 1396.3,131.9 1397.8,133.3 1399.3,134.6 1400.8,136.0 1402.3,137.4 1403.8,138.7 1405.3,140.1 1406.8,141.5 1408.2,142.8 1409.7,144.2 1411.2,145.6 1412.7,147.0 1414.1,148.4 1415.6,149.8 1417.1,151.2 1418.5,152.6 1420.0,154.0 1421.4,155.4 1422.9,156.8 1424.3,158.2 1425.8,159.6 1427.2,161.0 1428.7,162.4 1430.1,163.8 1431.6,165.3 1433.0,166.7 1434.4,168.1 1435.9,169.5 1437.3,171.0 1438.7,172.4 1440.1,173.8 1441.6,175.3 1443.0,176.7 1444.4,178.1 1445.8,179.6 1447.2,181.0 1448.7,182.5 1450.1,183.9 1451.5,185.3 1452.9,186.8 1454.3,188.2 1455.7,189.7 1457.1,191.1 1458.5,192.6 1459.9,194.1 1461.3,195.5 1462.7,197.0 1464.1,198.4 1465.5,199.9 1466.9,201.3 1468.3,202.8 1469.7,204.3 1471.1,205.7 1472.5,207.2 1473.9,208.6 1475.3,210.1 1476.7,211.6 1478.1,213.0 1479.5,214.5" stroke="#00ff00" stroke-width="9" fill="none" stroke-linejoin="round" stroke-linecap="butt" shape-rendering="crispEdges"/>
<path d="M1195,27.5 H1225" stroke="#000" stroke-width="9" fill="none"/>
<path d="M1228.0,27.5 1230.0,27.5 1232.1,27.6 1234.1,27.6 1236.1,27.7 1238.1,27.8 1240.2,27.9 1242.2,28.1 1244.2,28.2 1246.2,28.4 1248.2,28.6 1250.3,28.8 1252.3,29.0 1254.3,29.2 1256.3,29.5 1258.3,29.8 1260.3,30.0 1262.3,30.4 1264.3,30.7 1266.3,31.0 1268.3,31.4 1270.3,31.7 1272.3,32.1 1274.3,32.5 1276.3,33.0 1278.2,33.4 1280.2,33.8 1282.2,34.3 1284.2,34.8 1286.1,35.3 1288.1,35.8 1290.0,36.4 1292.0,36.9 1293.9,37.5 1295.9,38.1 1297.8,38.6 1299.8,39.3 1301.7,39.9 1303.6,40.5 1305.5,41.2 1307.4,41.9 1309.3,42.5 1311.3,43.2 1313.1,44.0 1315.0,44.7 1316.9,45.4 1318.8,46.2 1320.7,47.0 1322.5,47.8 1324.4,48.6 1326.3,49.4 1328.1,50.2 1330.0,51.0 1331.8,51.9 1333.6,52.8 1335.5,53.6 1337.3,54.5 1339.1,55.4 1340.9,56.4 1342.7,57.3 1344.5,58.2 1346.3,59.2 1348.1,60.2 1349.8,61.1 1351.6,62.1 1353.4,63.1 1355.1,64.1 1356.9,65.2 1358.6,66.2 1360.4,67.2 1362.1,68.3 1363.8,69.3 1365.6,70.4 1367.3,71.5 1369.0,72.6 1370.7,73.7 1372.4,74.8 1374.1,75.9 1375.8,77.0 1377.5,78.1 1379.1,79.3 1380.8,80.4 1382.5,81.6 1384.1,82.7 1385.8,83.9 1387.5,85.1 1389.1,86.3 1390.7,87.4 1392.4,88.6 1394.0,89.8 1395.6,91.0 1397.3,92.3 1398.9,93.5 1400.5,94.7 1402.1,95.9 1403.7,97.2 1405.3,98.4 1406.9,99.7 1408.5,100.9 1410.1,102.2 1411.7,103.4 1413.3,104.7 1414.9,106.0 1416.5,107.2 1418.0,108.5 1419.6,109.8 1421.2,111.1 1422.7,112.4 1424.3,113.6 1425.9,114.9 1427.4,116.2 1429.0,117.5 1430.5,118.8 1432.1,120.2 1433.6,121.5 1435.2,122.8 1436.7,124.1 1438.3,125.4 1439.8,126.7 1441.3,128.0 1442.9,129.4 1444.4,130.7 1445.9,132.0 1447.5,133.4 1449.0,134.7 1450.5,136.0 1452.0,137.3 1453.6,138.7 1455.1,140.0 1456.6,141.4 1458.2,142.7 1459.7,144.0 1461.2,145.4 1462.7,146.7 1464.2,148.0 1465.8,149.4 1467.3,150.7 1468.8,152.1 1470.3,153.4 1471.9,154.7 1473.4,156.1 1474.9,157.4 1476.4,158.7 1478.0,160.1 1479.5,161.4" stroke="#000" stroke-width="9" fill="none" stroke-linejoin="round" stroke-linecap="butt" shape-rendering="crispEdges"/>
<text x="137.88" y="1135.80" font-size="40" fill="#262626" stroke="#262626" stroke-width="1.0">0</text>
<text x="254.10" y="1135.80" font-size="40" fill="#262626" stroke="#262626" stroke-width="1.0">0.</text><path d="M763,0 L583,0 L583,1147 Q518,1085 412.5,1023 Q307,961 223,930 L223,1104 Q374,1175 486.5,1276 Q599,1377 646,1472 L763,1472 Z" transform="translate(287.46,1135.80) scale(0.01953,-0.01953)" fill="#262626" stroke="#262626" stroke-width="1.0" vector-effect="non-scaling-stroke"/>
<text x="387.00" y="1135.80" font-size="40" fill="#262626" stroke="#262626" stroke-width="1.0">0.2</text>
<text x="519.90" y="1135.80" font-size="40" fill="#262626" stroke="#262626" stroke-width="1.0">0.3</text>
<text x="652.80" y="1135.80" font-size="40" fill="#262626" stroke="#262626" stroke-width="1.0">0.4</text>
<text x="785.70" y="1135.80" font-size="40" fill="#262626" stroke="#262626" stroke-width="1.0">0.5</text>
<text x="918.60" y="1135.80" font-size="40" fill="#262626" stroke="#262626" stroke-width="1.0">0.6</text>
<text x="1051.50" y="1135.80" font-size="40" fill="#262626" stroke="#262626" stroke-width="1.0">0.7</text>
<text x="1184.40" y="1135.80" font-size="40" fill="#262626" stroke="#262626" stroke-width="1.0">0.8</text>
<text x="1317.30" y="1135.80" font-size="40" fill="#262626" stroke="#262626" stroke-width="1.0">0.9</text>
<path d="M763,0 L583,0 L583,1147 Q518,1085 412.5,1023 Q307,961 223,930 L223,1104 Q374,1175 486.5,1276 Q599,1377 646,1472 L763,1472 Z" transform="translate(1466.88,1135.80) scale(0.01953,-0.01953)" fill="#262626" stroke="#262626" stroke-width="1.0" vector-effect="non-scaling-stroke"/>
<text x="109.35" y="1092.80" font-size="40" fill="#262626" stroke="#262626" stroke-width="1.0">0</text>
<text x="75.99" y="987.85" font-size="40" fill="#262626" stroke="#262626" stroke-width="1.0">0.</text><path d="M763,0 L583,0 L583,1147 Q518,1085 412.5,1023 Q307,961 223,930 L223,1104 Q374,1175 486.5,1276 Q599,1377 646,1472 L763,1472 Z" transform="translate(109.35,987.85) scale(0.01953,-0.01953)" fill="#262626" stroke="#262626" stroke-width="1.0" vector-effect="non-scaling-stroke"/>
<text x="75.99" y="882.90" font-size="40" fill="#262626" stroke="#262626" stroke-width="1.0">0.2</text>
<text x="75.99" y="777.95" font-size="40" fill="#262626" stroke="#262626" stroke-width="1.0">0.3</text>
<text x="75.99" y="673.00" font-size="40" fill="#262626" stroke="#262626" stroke-width="1.0">0.4</text>
<text x="75.99" y="568.05" font-size="40" fill="#262626" stroke="#262626" stroke-width="1.0">0.5</text>
<text x="75.99" y="463.10" font-size="40" fill="#262626" stroke="#262626" stroke-width="1.0">0.6</text>
<text x="75.99" y="358.15" font-size="40" fill="#262626" stroke="#262626" stroke-width="1.0">0.7</text>
<text x="75.99" y="253.20" font-size="40" fill="#262626" stroke="#262626" stroke-width="1.0">0.8</text>
<text x="75.99" y="148.25" font-size="40" fill="#262626" stroke="#262626" stroke-width="1.0">0.9</text>
<path d="M763,0 L583,0 L583,1147 Q518,1085 412.5,1023 Q307,961 223,930 L223,1104 Q374,1175 486.5,1276 Q599,1377 646,1472 L763,1472 Z" transform="translate(109.35,43.30) scale(0.01953,-0.01953)" fill="#262626" stroke="#262626" stroke-width="1.0" vector-effect="non-scaling-stroke"/>
<text x="815" y="1198" font-size="46" fill="#262626" stroke="#262626" stroke-width="0.7" text-anchor="middle">Recall</text>
<text transform="translate(50,553) rotate(-90)" x="0" y="0" font-size="45.5" fill="#262626" stroke="#262626" stroke-width="0.7" text-anchor="middle">Precision</text>
<rect x="802.5" y="278.5" width="270" height="364" fill="#fff" stroke="#262626" stroke-width="3"/>
<path d="M815,309.00 H908" stroke="#0072bd" stroke-width="9.6" shape-rendering="crispEdges"/>
<text x="916.00" y="323.90" font-size="36.6" fill="#000" stroke="#000" stroke-width="1.2">FabMap</text>
<path d="M815,359.50 H908" stroke="#ff0000" stroke-width="9.6" shape-rendering="crispEdges" stroke-dasharray="25 24"/>
<text x="916.00" y="374.25" font-size="36.6" fill="#000" stroke="#000" stroke-width="1.2">spp</text><path d="M763,0 L583,0 L583,1147 Q518,1085 412.5,1023 Q307,961 223,930 L223,1104 Q374,1175 486.5,1276 Q599,1377 646,1472 L763,1472 Z" transform="translate(975.01,374.25) scale(0.01787,-0.01787)" fill="#000" stroke="#000" stroke-width="1.2" vector-effect="non-scaling-stroke"/>
<path d="M815,410.00 H908" stroke="#00ff00" stroke-width="9.6" shape-rendering="crispEdges" stroke-dasharray="25 24"/>
<text x="916.00" y="424.60" font-size="36.6" fill="#000" stroke="#000" stroke-width="1.2">spp</text><path d="M763,0 L583,0 L583,1147 Q518,1085 412.5,1023 Q307,961 223,930 L223,1104 Q374,1175 486.5,1276 Q599,1377 646,1472 L763,1472 Z" transform="translate(975.01,424.60) scale(0.01787,-0.01787)" fill="#000" stroke="#000" stroke-width="1.2" vector-effect="non-scaling-stroke"/><text x="995.37" y="424.60" font-size="36.6" fill="#000" stroke="#000" stroke-width="1.2">2</text>
<path d="M815,460.50 H908" stroke="#000" stroke-width="9.6" shape-rendering="crispEdges" stroke-dasharray="25 24"/>
<text x="916.00" y="474.95" font-size="36.6" fill="#000" stroke="#000" stroke-width="1.2">spp</text><path d="M763,0 L583,0 L583,1147 Q518,1085 412.5,1023 Q307,961 223,930 L223,1104 Q374,1175 486.5,1276 Q599,1377 646,1472 L763,1472 Z" transform="translate(975.01,474.95) scale(0.01787,-0.01787)" fill="#000" stroke="#000" stroke-width="1.2" vector-effect="non-scaling-stroke"/><text x="995.37" y="474.95" font-size="36.6" fill="#000" stroke="#000" stroke-width="1.2">24</text>
<path d="M815,511.00 H908" stroke="#ff0000" stroke-width="9.6" shape-rendering="crispEdges"/>
<text x="916.00" y="525.30" font-size="36.6" fill="#000" stroke="#000" stroke-width="1.2">spp</text><path d="M763,0 L583,0 L583,1147 Q518,1085 412.5,1023 Q307,961 223,930 L223,1104 Q374,1175 486.5,1276 Q599,1377 646,1472 L763,1472 Z" transform="translate(975.01,525.30) scale(0.01787,-0.01787)" fill="#000" stroke="#000" stroke-width="1.2" vector-effect="non-scaling-stroke"/><text x="995.37" y="525.30" font-size="36.6" fill="#000" stroke="#000" stroke-width="1.2">+</text>
<path d="M815,561.50 H908" stroke="#00ff00" stroke-width="9.6" shape-rendering="crispEdges"/>
<text x="916.00" y="575.65" font-size="36.6" fill="#000" stroke="#000" stroke-width="1.2">spp</text><path d="M763,0 L583,0 L583,1147 Q518,1085 412.5,1023 Q307,961 223,930 L223,1104 Q374,1175 486.5,1276 Q599,1377 646,1472 L763,1472 Z" transform="translate(975.01,575.65) scale(0.01787,-0.01787)" fill="#000" stroke="#000" stroke-width="1.2" vector-effect="non-scaling-stroke"/><text x="995.37" y="575.65" font-size="36.6" fill="#000" stroke="#000" stroke-width="1.2">2+</text>
<path d="M815,612.00 H908" stroke="#000" stroke-width="9.6" shape-rendering="crispEdges"/>
<text x="916.00" y="626.00" font-size="36.6" fill="#000" stroke="#000" stroke-width="1.2">spp</text><path d="M763,0 L583,0 L583,1147 Q518,1085 412.5,1023 Q307,961 223,930 L223,1104 Q374,1175 486.5,1276 Q599,1377 646,1472 L763,1472 Z" transform="translate(975.01,626.00) scale(0.01787,-0.01787)" fill="#000" stroke="#000" stroke-width="1.2" vector-effect="non-scaling-stroke"/><text x="995.37" y="626.00" font-size="36.6" fill="#000" stroke="#000" stroke-width="1.2">24+</text>
</svg>
</body></html>
